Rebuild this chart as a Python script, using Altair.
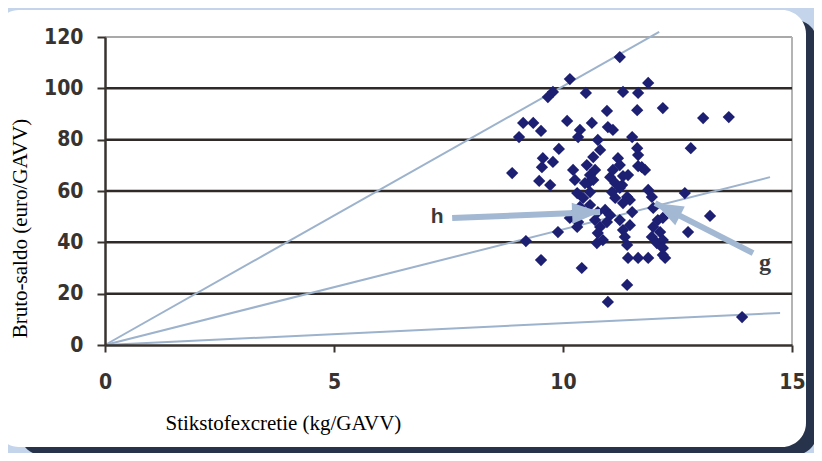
import altair as alt
import pandas as pd

# --- data -------------------------------------------------------------
px = [10.15, 9.78, 9.67, 10.50, 9.13, 9.35, 9.52, 10.09, 9.04, 10.37, 10.33, 10.63,
      9.91, 9.56, 9.54, 9.78, 8.89, 9.48, 9.72, 10.22, 10.26, 10.66, 10.70, 10.59,
      10.55, 11.24, 11.86, 11.31, 11.64, 10.96, 11.62, 12.18, 10.98, 11.09, 11.51,
      11.62, 12.79, 10.76, 10.81, 10.52, 11.20, 11.24, 11.64, 11.79, 11.03, 11.42,
      11.14, 11.29, 10.48, 11.64, 11.07, 11.40, 11.14, 11.46, 11.86, 11.94, 10.31,
      10.44, 10.59, 10.37, 10.59, 10.76, 10.92, 11.03, 10.96, 10.26, 10.15, 10.33,
      10.31, 9.89, 9.19, 9.52, 10.41, 10.70, 10.81, 10.76, 10.87, 10.74, 11.24,
      11.46, 11.31, 11.35, 11.40, 11.51, 11.97, 12.07, 12.18, 11.97, 12.12, 11.94,
      12.05, 12.18, 12.18, 12.23, 12.66, 12.73, 11.42, 11.64, 11.86, 11.40, 10.98,
      13.06, 13.62, 13.21, 13.91, 11.31, 11.24, 11.31, 12.18, 10.66, 11.09, 11.72]
py = [103.6, 98.6, 96.6, 98.2, 86.5, 86.5, 83.4, 87.3, 81.0, 83.8, 81.0, 86.5,
      76.4, 72.8, 69.3, 71.3, 67.0, 63.9, 62.3, 68.2, 64.3, 73.2, 68.2, 66.2,
      63.1, 112.2, 102.1, 98.6, 98.2, 91.2, 91.5, 92.3, 84.9, 83.8, 81.0,
      76.7, 76.7, 79.9, 76.0, 70.1, 72.8, 70.1, 69.7, 68.2, 65.4, 66.2,
      63.1, 62.3, 63.1, 74.0, 59.6, 57.7, 57.3, 56.5, 60.4, 57.7, 59.2,
      57.3, 59.6, 53.8, 54.5, 51.8, 52.6, 50.6, 47.9, 51.4, 49.5, 47.9,
      46.0, 44.0, 40.5, 33.1, 30.0, 48.7, 46.0, 43.6, 40.9, 39.7, 48.7,
      46.7, 44.8, 42.1, 39.0, 51.8, 53.4, 48.7, 49.5, 46.0, 44.0, 42.1,
      39.7, 40.9, 37.8, 33.9, 59.2, 44.0, 33.9, 33.9, 33.9, 23.4, 16.8,
      88.4, 88.8, 50.3, 10.9, 65.8, 61.2, 55.3, 35.1, 64.3, 68.2, 69.3]

# three reference lines from the origin (end points)
line_ids = ["a", "a", "b", "b", "c", "c"]
line_x = [0, 12.1, 0, 14.52, 0, 14.74]
line_y = [0, 122.0, 0, 65.4, 0, 12.5]

# arrows: start and tip
arrow_names = ["h", "g"]
arrow_x0 = [7.58, 14.15]
arrow_y0 = [49.5, 35.8]
arrow_x1 = [10.81, 12.01]
arrow_y1 = [51.8, 55.3]
arrow_angle = [357.7, 207.0]

label_txt = ["h", "g"]
label_x = [7.25, 14.41]
label_y = [49.9, 31.9]

x_ticks = [0, 5, 10, 15]
y_ticks = [0, 20, 40, 60, 80, 100, 120]
grid_vals = [20, 40, 60, 80, 100]
top_border = [120]
right_border = [15]

# --- styles -------------------------------------------------------------
DARK = "#38332f"
NARROW = "Liberation Sans Narrow, Arial Narrow, DejaVu Sans Condensed, sans-serif"
SERIF = "Liberation Serif, Times New Roman, serif"
LINEC = "#9db2cc"
ARROWC = "#a3b8d2"

xs = alt.Scale(domain=[0, 15], nice=False, zero=True)
ys = alt.Scale(domain=[0, 120], nice=False, zero=True)

xaxis = alt.Axis(values=x_ticks, grid=False, title="Stikstofexcretie (kg/GAVV)", zindex=1,
                 domainColor=DARK, domainWidth=2.5, tickColor=DARK, tickWidth=2,
                 tickSize=7, labelFont=NARROW, labelFontWeight="bold", labelFontSize=21,
                 labelColor=DARK, labelPadding=19, labelFlush=False, labelOverlap=False,
                 titleFont=SERIF, titleFontSize=21,
                 titleFontWeight="normal", titleColor="#000000", titleX=60, titleY=84,
                 titleAlign="left", titleBaseline="alphabetic", titleAnchor="start")
yaxis = alt.Axis(values=y_ticks, grid=False, title="Bruto-saldo (euro/GAVV)", zindex=1,
                 domainColor=DARK, domainWidth=2.5, tickColor=DARK, tickWidth=2,
                 tickSize=8, labelFont=NARROW, labelFontWeight="bold", labelFontSize=21,
                 labelColor=DARK, labelPadding=14, labelFlush=False, labelOverlap=False,
                 titleFont=SERIF, titleFontSize=21,
                 titleFontWeight="normal", titleColor="#000000", titleX=-85, titleY=191,
                 titleAngle=270, titleAlign="center", titleBaseline="middle")

one = pd.DataFrame({"k": [0]})

shadow = alt.Chart(one).mark_rect(color="#26334a", cornerRadius=22).encode(
    x=alt.value(-85), x2=alt.value(712), y=alt.value(-17), y2=alt.value(418))
card = alt.Chart(one).mark_rect(color="#ffffff", cornerRadius=24).encode(
    x=alt.value(-110), x2=alt.value(701), y=alt.value(-27), y2=alt.value(410))

grid = alt.Chart(pd.DataFrame({"y": grid_vals})).mark_rule(
    color="#2f2a27", strokeWidth=2.5).encode(y=alt.Y("y:Q", scale=ys, axis=yaxis))
topb = alt.Chart(pd.DataFrame({"y": top_border})).mark_rule(
    color="#a9a9a9", strokeWidth=2).encode(y=alt.Y("y:Q", scale=ys, axis=yaxis))
rightb = alt.Chart(pd.DataFrame({"x": right_border})).mark_rule(
    color="#b4b4b4", strokeWidth=2).encode(x=alt.X("x:Q", scale=xs, axis=xaxis))

lines_df = pd.DataFrame({"x": line_x, "y": line_y, "id": line_ids})
lines = alt.Chart(lines_df).mark_line(color=LINEC, strokeWidth=2).encode(
    x=alt.X("x:Q", scale=xs, axis=xaxis), y=alt.Y("y:Q", scale=ys, axis=yaxis),
    detail="id:N")

pts = alt.Chart(pd.DataFrame({"x": px, "y": py})).mark_point(
    shape="diamond", filled=True, size=150, color="#1c1f72", opacity=1).encode(
    x=alt.X("x:Q", scale=xs, axis=xaxis), y=alt.Y("y:Q", scale=ys, axis=yaxis))

arr_df = pd.DataFrame({"x": arrow_x0, "y": arrow_y0, "x2": arrow_x1, "y2": arrow_y1,
                       "ang": arrow_angle, "n": arrow_names})
shafts = alt.Chart(arr_df).mark_rule(color=ARROWC, strokeWidth=6).encode(
    x=alt.X("x:Q", scale=xs, axis=xaxis), y=alt.Y("y:Q", scale=ys, axis=yaxis),
    x2="x2:Q", y2="y2:Q")
heads = alt.Chart(arr_df).mark_point(
    shape="M0,0L-2,-0.75L-2,0.75Z", filled=True, size=784, color=ARROWC, opacity=1).encode(
    x=alt.X("x2:Q", scale=xs, axis=xaxis), y=alt.Y("y2:Q", scale=ys, axis=yaxis),
    angle=alt.Angle("ang:Q", scale=None))

lab_df = pd.DataFrame({"x": label_x, "y": label_y, "t": label_txt})
lab_h = alt.Chart(lab_df[lab_df.t == "h"]).mark_text(
    font="Liberation Sans, Arial, sans-serif", fontSize=21, fontWeight="bold",
    color="#3a3a3a").encode(
    x=alt.X("x:Q", scale=xs, axis=xaxis), y=alt.Y("y:Q", scale=ys, axis=yaxis), text="t:N")
lab_g = alt.Chart(lab_df[lab_df.t == "g"]).mark_text(
    font=SERIF, fontSize=24, fontWeight="bold", color="#3a3a3a").encode(
    x=alt.X("x:Q", scale=xs, axis=xaxis), y=alt.Y("y:Q", scale=ys, axis=yaxis), text="t:N")

chart = alt.layer(shadow, card, topb, rightb, grid, lines, pts, shafts, heads,
                  lab_h, lab_g).properties(
    width=687, height=308,
    autosize=alt.AutoSizeParams(type="none"),
    padding={"left": 97, "top": 29, "right": 22, "bottom": 108},
    background="#c3d4eb",
).configure_view(stroke=None)

chart.save("out.html", embed_options={"renderer": "svg", "actions": False})
